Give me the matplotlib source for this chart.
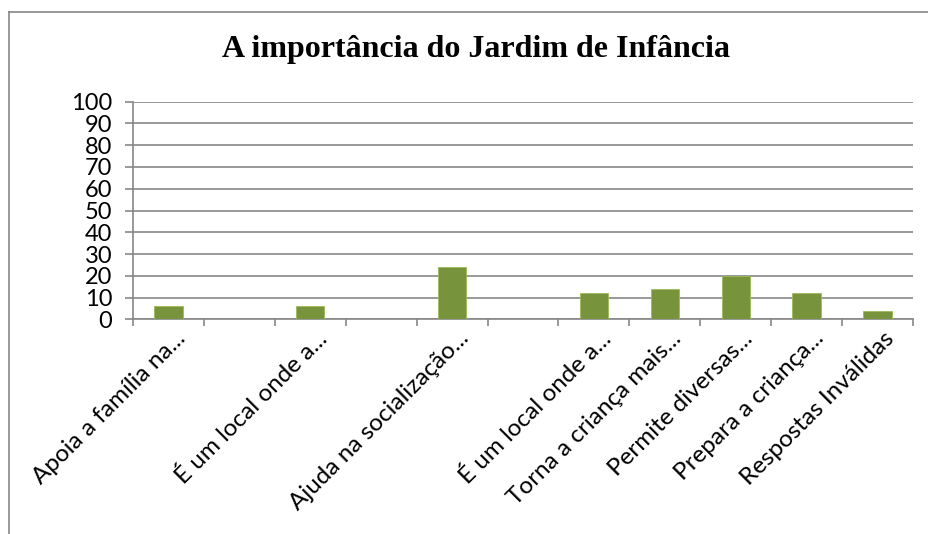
import matplotlib.pyplot as plt
from matplotlib.lines import Line2D
from matplotlib.transforms import ScaledTranslation
import numpy as np

# categorias (as vazias não têm rótulo no gráfico original)
categorias = ['Apoia a família na...', '', 'É um local onde a...', '',
              'Ajuda na socialização...', '', 'É um local onde a...',
              'Torna a criança mais...', 'Permite diversas...',
              'Prepara a criança...', 'Respostas Inválidas']
valores = [6, 0, 6, 0, 24, 0, 12, 14, 20, 12, 4]
yticks = [0, 10, 20, 30, 40, 50, 60, 70, 80, 90, 100]

verde = '#77933C'
cinza = '#878787'

fig = plt.figure(figsize=(9.29, 5.34), dpi=100)
ax = fig.add_axes([133 / 929, 1 - 319.3 / 534, 780 / 929, 217.6 / 534])

x = np.arange(len(categorias))
ax.bar(x, valores, width=0.4, color=verde, edgecolor='#9BBB59', linewidth=0.6, zorder=3)

ax.set_xlim(-0.5, len(categorias) - 0.5)
ax.set_ylim(0, 100)
ax.set_yticks(yticks)
ax.set_yticklabels([str(v) for v in yticks], fontsize=17, family='Lato')
ax.yaxis.grid(True, color=cinza, linewidth=1.2, zorder=0)
ax.set_axisbelow(True)

# ticks do eixo x entre categorias, rótulos no centro
ax.set_xticks(np.arange(-0.5, len(categorias)), minor=False)
ax.set_xticklabels([])
ax.set_xticks(x, minor=True)
ax.set_xticklabels(categorias, minor=True, rotation=45, ha='right', va='top',
                   rotation_mode='anchor', fontsize=17.5, family='Lato')
ax.tick_params(axis='x', which='minor', length=0, pad=6)
ax.tick_params(axis='x', which='major', length=5, width=1.2, color=cinza)
ax.tick_params(axis='y', length=6, width=1.2, color=cinza, pad=9)

# desloca um pouco os rótulos para a direita, como no original
desloc = ScaledTranslation(6 / 100, 0, fig.dpi_scale_trans)
for lab in ax.get_xticklabels(minor=True):
    lab.set_transform(lab.get_transform() + desloc)

for s in ['top', 'right']:
    ax.spines[s].set_visible(False)
ax.spines['left'].set_color(cinza)
ax.spines['left'].set_linewidth(1.2)
ax.spines['bottom'].set_color(cinza)
ax.spines['bottom'].set_linewidth(1.2)

fig.text(476 / 929, 1 - 50 / 534, 'A importância do Jardim de Infância',
         ha='center', va='center', fontsize=23, fontweight='bold',
         family='Liberation Serif')

# moldura do gráfico (cortada à direita e em baixo)
fig.add_artist(Line2D([9 / 929, 9 / 929], [0, 1 - 12 / 534], color=cinza, linewidth=1.2))
fig.add_artist(Line2D([9 / 929, 1], [1 - 12 / 534, 1 - 12 / 534], color=cinza, linewidth=1.2))

fig.savefig('out.png', dpi=100)
